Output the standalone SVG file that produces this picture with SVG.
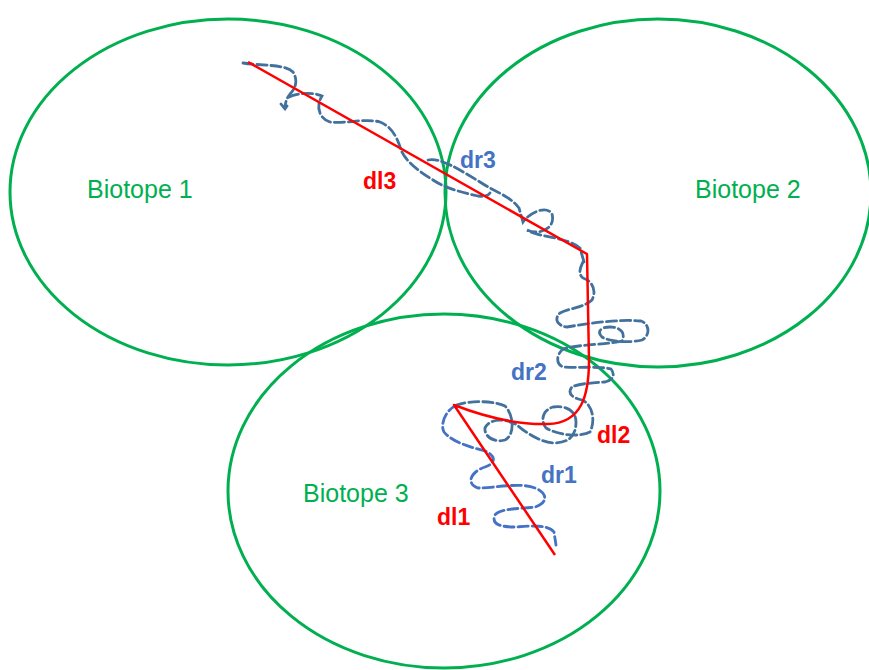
<svg xmlns="http://www.w3.org/2000/svg" width="869" height="670" viewBox="0 0 869 670">
<style>
.bio{fill:none;stroke:#00B050;stroke-width:3}
.btxt{font-family:"Liberation Sans",Arial,sans-serif;font-size:25px;fill:#00B050}
.red{fill:none;stroke:#FF0000;stroke-width:2.5;stroke-linejoin:round}
.dash{fill:none;stroke:#41719C;stroke-width:2.8;stroke-dasharray:10 4;stroke-linecap:round}
.dash1{fill:none;stroke:#4472C4;stroke-width:2.8;stroke-dasharray:10 4;stroke-linecap:round}
.lr{font-family:"Liberation Sans",Arial,sans-serif;font-size:23px;font-weight:bold;fill:#FF0000}
.lb{font-family:"Liberation Sans",Arial,sans-serif;font-size:23px;font-weight:bold;fill:#4472C4}
</style>
<rect width="869" height="670" fill="#FFFFFF"/>
<g id="biotope1">
<ellipse class="bio" cx="228" cy="192" rx="218" ry="173"/>
<text class="btxt" x="87" y="198">Biotope 1</text>
</g>
<g id="biotope2">
<ellipse class="bio" cx="658" cy="193" rx="213" ry="174"/>
<text class="btxt" x="695" y="198">Biotope 2</text>
</g>
<g id="biotope3">
<ellipse class="bio" cx="444" cy="491" rx="216" ry="177"/>
<text class="btxt" x="303" y="502">Biotope 3</text>
</g>
<g id="connectors">
<path class="dash" d="M243,63 C262,66 285,64 293,72 C298,80 296,88 290,94 C286,99 285,104 285,109 M281,104 L285,109 L289,103"/>
<path class="dash" d="M289,97 C296,93 314,92 322,96 C316,105 318,118 330,122 C345,124 365,118 380,122 C393,127 398,140 401,150 C406,162 420,172 433,180 C445,188 460,192 478,196 C484,197 488,196 490,193"/>
<path class="dash" d="M428,160 C440,157 460,170 480,182 C495,192 510,196 519,208 L523,222 C530,212 547,205 552,214 C556,228 540,236 527,230 C540,238 565,236 580,248 L584,262"/>
<path class="dash" d="M583,262 C580,268 578,274 583,278 C592,281 597,290 592,300 C585,307 570,308 560,313 C554,318 557,326 567,327 C590,323 620,319 641,321 C650,324 650,336 642,340 C630,343 610,342 602,337 C597,332 600,327 610,327 C620,327 626,333 622,341 C605,345 580,344 563,349 C556,355 556,364 563,367 C580,368 600,366 611,369 C615,374 614,380 605,382 C590,383 577,384 572,387 C567,393 572,398 582,400 C592,404 596,420 590,432 C580,437 560,436 546,428 C540,420 543,410 553,407 C568,405 576,412 576,422 C576,435 570,443 553,443 C540,442 525,432 517,425 C505,418 490,418 485,428 C484,437 495,443 505,440 C515,435 514,415 505,406 C495,401 470,400 457,405"/>
<path class="dash1" d="M457,405 C445,410 440,425 444,432 C452,442 470,447 485,451 C495,455 497,463 485,467 C470,472 466,484 478,488 C495,488 520,482 535,488 C548,493 548,503 535,507 C520,509 500,508 495,515 C491,524 500,527 515,527 C530,526 548,524 554,532 L556,545"/>
<path class="red" d="M248,62 L587,254 L589,360 C589,395 582,423 548,424 C515,425 480,415 454,405 L555,555"/>
<text class="lr" x="363" y="189">dl3</text>
<text class="lb" x="460" y="168">dr3</text>
<text class="lb" x="511" y="380">dr2</text>
<text class="lr" x="597" y="443">dl2</text>
<text class="lb" x="541" y="483">dr1</text>
<text class="lr" x="437" y="525">dl1</text>
</g>
</svg>
